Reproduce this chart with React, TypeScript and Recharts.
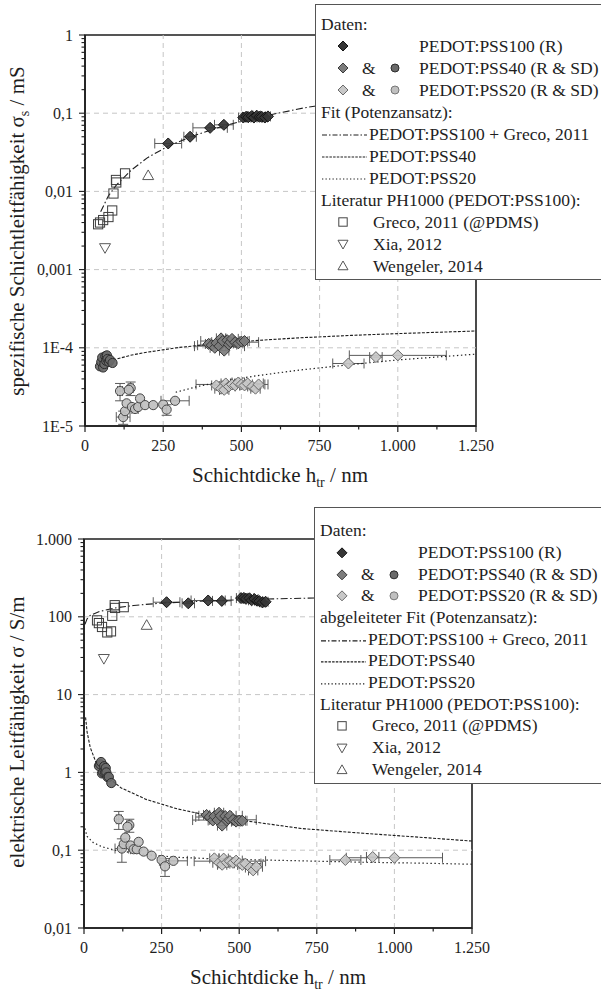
import React from "react"
import {
  ComposedChart,
  Scatter,
  XAxis,
  YAxis,
  ErrorBar,
  ReferenceLine,
  ReferenceArea,
} from "recharts"

const SERIF = '"Liberation Serif", "Times New Roman", Times, serif'
const INK = "#1e1e1e"
const GRID = "#c6c6c6"
const ERR = "#5a5a5a"

const X_TICKS = [0, 250, 500, 750, 1000, 1250]
const X_LABELS = ["0", "250", "500", "750", "1.000", "1.250"]
const X_MINOR = [125, 375, 625, 875, 1125]
const X_GRID = [250, 500, 750, 1000]

const TOP_Y_TICKS = [1e-5, 1e-4, 0.001, 0.01, 0.1, 1]
const TOP_Y_LABELS = ["1E-5", "1E-4", "0,001", "0,01", "0,1", "1"]
const BOT_Y_TICKS = [0.01, 0.1, 1, 10, 100, 1000]
const BOT_Y_LABELS = ["0,01", "0,1", "1", "10", "100", "1.000"]
const MINOR_STEPS = [2, 3, 4, 5, 6, 7, 8, 9]

// --- data: thickness h_tr [nm], sheet conductance [mS] (top), conductivity [S/m] (bottom)

// PEDOT:PSS100 (R)
const pss100H = [266, 336, 400, 444, 506, 515, 522, 533, 540, 549, 558, 565, 575, 585]
const pss100Sheet = [0.041, 0.05, 0.065, 0.071, 0.088, 0.09, 0.089, 0.092, 0.088, 0.093, 0.09, 0.09, 0.088, 0.091]
const pss100Cond = [154, 149, 162, 160, 174, 175, 170, 173, 163, 169, 161, 159, 153, 156]
const pss100HErr = [43, 20, 55, 30, 15, 12, 10, 14, 10, 12, 8, 10, 8, 8]

// PEDOT:PSS40 (R)
const pss40rH = [395, 405, 415, 420, 430, 435, 440, 445, 455, 460, 465, 470, 480, 490, 500, 510]
const pss40rSheet = [1.12e-4, 1.08e-4, 1.0e-4, 1.15e-4, 1.05e-4, 1.32e-4, 1.22e-4, 0.92e-4, 1.25e-4, 1.1e-4, 1.18e-4, 1.3e-4, 1.18e-4, 1.14e-4, 1.2e-4, 1.22e-4]
const pss40rCond = [0.284, 0.267, 0.241, 0.274, 0.244, 0.303, 0.277, 0.207, 0.275, 0.239, 0.254, 0.277, 0.246, 0.233, 0.24, 0.239]
const pss40rHErr = [10, 45, 15, 20, 80, 15, 70, 15, 20, 25, 15, 20, 75, 15, 20, 15]

// PEDOT:PSS40 (SD)
const pss40sdH = [48, 52, 55, 58, 62, 65, 68, 70, 72, 76, 80, 88]
const pss40sdSheet = [5.8e-5, 6.6e-5, 7.5e-5, 5.6e-5, 6.2e-5, 7.8e-5, 6.8e-5, 8.0e-5, 7.2e-5, 6.6e-5, 7.0e-5, 6.4e-5]
const pss40sdCond = [1.21, 1.27, 1.36, 0.97, 1.0, 1.2, 1.0, 1.14, 1.0, 0.87, 0.875, 0.73]

// PEDOT:PSS20 (R)
const pss20rH = [420, 435, 445, 450, 460, 470, 480, 490, 500, 510, 520, 535, 545, 555, 842, 930, 1000]
const pss20rSheet = [3.3e-5, 3.0e-5, 2.9e-5, 3.5e-5, 3.2e-5, 3.4e-5, 3.3e-5, 3.6e-5, 3.4e-5, 3.3e-5, 3.5e-5, 3.2e-5, 3.0e-5, 3.4e-5, 6.3e-5, 7.6e-5, 8.0e-5]
const pss20rCond = [0.0786, 0.069, 0.065, 0.078, 0.0696, 0.0723, 0.0688, 0.0735, 0.068, 0.0647, 0.0673, 0.0598, 0.055, 0.0613, 0.0748, 0.0817, 0.08]
const pss20rHErr = [15, 20, 15, 15, 20, 115, 15, 20, 15, 15, 50, 15, 15, 20, 50, 20, 155]

// PEDOT:PSS20 (SD)
const pss20sdH = [112, 146, 140, 122, 128, 133, 150, 160, 170, 176, 192, 218, 250, 261, 288]
const pss20sdSheet = [2.8e-5, 3.05e-5, 2.9e-5, 1.3e-5, 1.55e-5, 1.95e-5, 1.75e-5, 1.65e-5, 1.75e-5, 2.25e-5, 1.85e-5, 1.85e-5, 1.88e-5, 1.62e-5, 2.1e-5]
const pss20sdCond = [0.25, 0.21, 0.2, 0.105, 0.12, 0.145, 0.115, 0.103, 0.103, 0.128, 0.096, 0.085, 0.075, 0.062, 0.073]
const pss20sdHErr = [8, 8, 0, 22, 0, 0, 0, 10, 0, 0, 0, 0, 0, 0, 45]
const pss20sdSheetErr = [0.7e-5, 0.6e-5, 0, 0.25e-5, 0, 0, 0, 0, 0, 0, 0, 0, 0, 0.25e-5, 0]
const pss20sdCondErr = [0.065, 0.04, 0, 0.035, 0, 0, 0, 0, 0, 0, 0, 0, 0, 0.016, 0]

// literature PH1000
const grecoH = [42, 48, 58, 75, 87, 91, 99, 100, 128]
const grecoSheet = [0.0038, 0.004, 0.0043, 0.0047, 0.0057, 0.0094, 0.014, 0.013, 0.017]
const grecoCond = [90, 83, 74, 63, 65, 103, 141, 130, 133]
const xiaH = [64]
const xiaSheet = [0.0019]
const xiaCond = [29]
const wengH = [202]
const wengSheet = [0.016]
const wengCond = [78]

// power-law fits: [h, value]
const fitSheet100 = [[50, 0.0055], [75, 0.0088], [100, 0.012], [150, 0.019], [200, 0.027], [266, 0.038], [350, 0.052], [450, 0.07], [550, 0.088], [700, 0.117], [850, 0.145], [1000, 0.175], [1250, 0.225]]
const fitSheet40 = [[90, 7.0e-5], [150, 8.1e-5], [200, 8.8e-5], [300, 1.01e-4], [400, 1.11e-4], [500, 1.2e-4], [600, 1.28e-4], [700, 1.35e-4], [850, 1.44e-4], [1000, 1.52e-4], [1250, 1.64e-4]]
const fitSheet20 = [[290, 2.7e-5], [360, 3.2e-5], [450, 3.8e-5], [550, 4.4e-5], [687, 5.2e-5], [850, 6.1e-5], [1000, 7.0e-5], [1250, 8.3e-5]]
const fitCond100 = [[3, 80], [10, 94], [20, 104], [50, 117], [100, 130], [160, 140], [250, 150], [400, 160], [550, 168], [700, 173], [900, 180], [1100, 185], [1250, 188]]
const fitCond40 = [[5, 5.1], [7, 4.3], [10, 3.3], [20, 2.1], [40, 1.3], [70, 0.91], [120, 0.63], [200, 0.45], [300, 0.34], [400, 0.28], [500, 0.245], [700, 0.19], [900, 0.165], [1100, 0.145], [1250, 0.131]]
const fitCond20 = [[3, 0.19], [10, 0.15], [30, 0.125], [60, 0.11], [100, 0.1], [200, 0.088], [300, 0.081], [400, 0.078], [500, 0.076], [700, 0.073], [900, 0.07], [1100, 0.068], [1250, 0.066]]

type Pt = { x: number; y: number; ex: number; ey: number }

const zip = (h: number[], v: number[], ex?: number[], ey?: number[]): Pt[] =>
  h.map((x, i) => ({ x, y: v[i], ex: ex ? ex[i] : 0, ey: ey ? ey[i] : 0 }))
const curve = (pairs: number[][]): Pt[] => pairs.map(([x, y]) => ({ x, y, ex: 0, ey: 0 }))
const minorOf = (majors: number[]) =>
  majors.slice(0, -1).flatMap((d) => MINOR_STEPS.map((m) => m * d))

const STYLE = {
  pss100: { fill: "#363636", stroke: "#141414" },
  pss40r: { fill: "#7c7c7c", stroke: "#3a3a3a" },
  pss40sd: { fill: "#6a6a6a", stroke: "#2c2c2c" },
  pss20r: { fill: "#c8c8c8", stroke: "#6a6a6a" },
  pss20sd: { fill: "#c0c0c0", stroke: "#484848" },
  greco: { fill: "none", stroke: "#3c3c3c" },
  lit: { fill: "none", stroke: "#5a5a5a" },
}

type Kind = "diamond" | "circle" | "square" | "down" | "up"

function glyph(kind: Kind, cx: number, cy: number, r: number, fill: string, stroke: string, op = 1) {
  const common = { fill, stroke, strokeWidth: 1, fillOpacity: op }
  if (kind === "diamond")
    return <polygon {...common} points={`${cx},${cy - r} ${cx + r},${cy} ${cx},${cy + r} ${cx - r},${cy}`} />
  if (kind === "circle") return <circle {...common} cx={cx} cy={cy} r={r} />
  if (kind === "square") return <rect {...common} x={cx - r} y={cy - r} width={2 * r} height={2 * r} />
  if (kind === "down")
    return <polygon {...common} points={`${cx - r},${cy - r * 0.75} ${cx + r},${cy - r * 0.75} ${cx},${cy + r}`} />
  return <polygon {...common} points={`${cx - r},${cy + r * 0.75} ${cx + r},${cy + r * 0.75} ${cx},${cy - r}`} />
}

// eslint-disable-next-line @typescript-eslint/no-explicit-any
const shapeOf = (kind: Kind, r: number, s: { fill: string; stroke: string }, op = 0.92) => (p: any) =>
  glyph(kind, p.cx, p.cy, r, s.fill, s.stroke, op)

const noDot = () => <g />

// eslint-disable-next-line @typescript-eslint/no-explicit-any
function XTick(props: any) {
  const { x, y, payload } = props
  const i = X_TICKS.indexOf(payload.value)
  const major = i >= 0
  return (
    <g>
      <line x1={x} x2={x} y1={y} y2={y + (major ? 6 : 3.5)} stroke={INK} strokeWidth={1.2} />
      {major && (
        <text x={x} y={y + 25} textAnchor="middle" fontFamily={SERIF} fontSize={16} fill={INK}>
          {X_LABELS[i]}
        </text>
      )}
    </g>
  )
}

// eslint-disable-next-line @typescript-eslint/no-explicit-any
function YTick(props: any) {
  const { x, y, payload, majors, labels } = props
  const i = majors.indexOf(payload.value)
  const major = i >= 0
  return (
    <g>
      <line x1={x - (major ? 6 : 3.5)} x2={x} y1={y} y2={y} stroke={INK} strokeWidth={1.1} />
      {major && (
        <text x={x - 12} y={y} dy="0.35em" textAnchor="end" fontFamily={SERIF} fontSize={16} fill={INK}>
          {labels[i]}
        </text>
      )}
    </g>
  )
}

type PanelProps = {
  margin: { top: number; right: number; bottom: number; left: number }
  yTicks: number[]
  yLabels: string[]
  xCenter: number
  xTitleY: number
  yTitleY: number
  yTitle: React.ReactNode
  fit100: Pt[]
  fit40: Pt[]
  fit20: Pt[]
  pss100: Pt[]
  pss40r: Pt[]
  pss40sd: Pt[]
  pss20r: Pt[]
  pss20sd: Pt[]
  greco: Pt[]
  xia: Pt[]
  weng: Pt[]
}

function Panel(p: PanelProps) {
  const yDomain = [p.yTicks[0], p.yTicks[p.yTicks.length - 1]]
  const allY = [...p.yTicks, ...minorOf(p.yTicks)]
  return (
    <ComposedChart width={601} height={496} margin={p.margin}>
      <XAxis
        dataKey="x"
        type="number"
        domain={[0, 1250]}
        allowDataOverflow
        ticks={[...X_TICKS, ...X_MINOR]}
        interval={0}
        tickSize={0}
        tickMargin={0}
        tickLine={false}
        axisLine={{ stroke: INK, strokeWidth: 1.6 }}
        tick={(t) => <XTick {...t} />}
        height={40}
        label={() => (
          <text x={p.xCenter} y={p.xTitleY} textAnchor="middle" fontFamily={SERIF} fontSize={21} fill={INK}>
            Schichtdicke h<tspan fontSize={14} dy={5}>tr</tspan>
            <tspan dy={-5}> / nm</tspan>
          </text>
        )}
      />
      <YAxis
        dataKey="y"
        type="number"
        scale="log"
        domain={yDomain}
        allowDataOverflow
        ticks={allY}
        interval={0}
        tickSize={0}
        tickMargin={0}
        tickLine={false}
        axisLine={{ stroke: INK, strokeWidth: 1.6 }}
        tick={(t) => <YTick {...t} majors={p.yTicks} labels={p.yLabels} />}
        width={70}
        label={() => (
          <text
            x={24}
            y={p.yTitleY}
            transform={`rotate(-90 24 ${p.yTitleY})`}
            textAnchor="middle"
            fontFamily={SERIF}
            fontSize={21}
            fill={INK}
          >
            {p.yTitle}
          </text>
        )}
      />
      {X_GRID.map((v) => (
        <ReferenceLine key={`gx${v}`} x={v} stroke={GRID} strokeWidth={1} strokeDasharray="5 4" />
      ))}
      {p.yTicks.slice(1, -1).map((v) => (
        <ReferenceLine key={`gy${v}`} y={v} stroke={GRID} strokeWidth={1} strokeDasharray="5 4" />
      ))}
      <ReferenceArea x1={0} x2={1250} y1={yDomain[0]} y2={yDomain[1]} fill="none" stroke={INK} strokeWidth={1.6} />

      <Scatter data={p.fit100} shape={noDot} line={{ stroke: INK, strokeWidth: 1.1, strokeDasharray: "7 2.5 1.5 2.5" }} isAnimationActive={false} />
      <Scatter data={p.fit40} shape={noDot} line={{ stroke: INK, strokeWidth: 1.1, strokeDasharray: "3 1.5" }} isAnimationActive={false} />
      <Scatter data={p.fit20} shape={noDot} line={{ stroke: INK, strokeWidth: 1.2, strokeDasharray: "1.4 2.6" }} isAnimationActive={false} />

      <Scatter data={p.pss20r} shape={shapeOf("diamond", 5.5, STYLE.pss20r)} isAnimationActive={false}>
        <ErrorBar dataKey="ex" direction="x" width={5} stroke={ERR} strokeWidth={1} />
      </Scatter>
      <Scatter data={p.pss20sd} shape={shapeOf("circle", 4.6, STYLE.pss20sd)} isAnimationActive={false}>
        <ErrorBar dataKey="ex" direction="x" width={5} stroke={ERR} strokeWidth={1} />
        <ErrorBar dataKey="ey" direction="y" width={5} stroke={ERR} strokeWidth={1} />
      </Scatter>
      <Scatter data={p.pss40r} shape={shapeOf("diamond", 5.5, STYLE.pss40r)} isAnimationActive={false}>
        <ErrorBar dataKey="ex" direction="x" width={5} stroke={ERR} strokeWidth={1} />
      </Scatter>
      <Scatter data={p.pss40sd} shape={shapeOf("circle", 4.6, STYLE.pss40sd)} isAnimationActive={false}>
        <ErrorBar dataKey="ex" direction="x" width={4} stroke={ERR} strokeWidth={1} />
      </Scatter>
      <Scatter data={p.pss100} shape={shapeOf("diamond", 5.5, STYLE.pss100)} isAnimationActive={false}>
        <ErrorBar dataKey="ex" direction="x" width={5} stroke={ERR} strokeWidth={1} />
      </Scatter>
      <Scatter data={p.greco} shape={shapeOf("square", 4.6, STYLE.greco, 1)} isAnimationActive={false} />
      <Scatter data={p.xia} shape={shapeOf("down", 5.5, STYLE.lit, 1)} isAnimationActive={false} />
      <Scatter data={p.weng} shape={shapeOf("up", 5.5, STYLE.lit, 1)} isAnimationActive={false} />
    </ComposedChart>
  )
}

function LegendBox({
  left,
  top,
  height,
  firstRow,
  rowH,
  fitTitle,
}: {
  left: number
  top: number
  height: number
  firstRow: number
  rowH: number
  fitTitle: string
}) {
  const rowTop = (i: number) => firstRow + i * rowH - rowH / 2
  const m = rowH / 2
  const text = (i: number, x: number, s: string) => (
    <div
      style={{
        position: "absolute",
        left: x,
        top: rowTop(i),
        height: rowH,
        lineHeight: `${rowH}px`,
        whiteSpace: "nowrap",
      }}
    >
      {s}
    </div>
  )
  const sym = (i: number, children: React.ReactNode) => (
    <svg style={{ position: "absolute", left: 0, top: rowTop(i) }} width={110} height={rowH}>
      {children}
    </svg>
  )
  const sample = (i: number, dash: string) =>
    sym(i, <line x1={6} x2={51} y1={m + 1} y2={m + 1} stroke={INK} strokeWidth={1.1} strokeDasharray={dash} />)

  return (
    <div
      style={{
        position: "absolute",
        left,
        top,
        width: 420,
        height,
        background: "#fff",
        borderTop: "1px solid #555",
        borderLeft: "1px solid #555",
        borderBottom: "1px solid #555",
        fontFamily: SERIF,
        fontSize: 17.5,
        color: INK,
      }}
    >
      {text(0, 5, "Daten:")}
      {sym(1, glyph("diamond", 27, m, 5, STYLE.pss100.fill, STYLE.pss100.stroke))}
      {text(1, 103, "PEDOT:PSS100 (R)")}
      {sym(2, <>{glyph("diamond", 27, m, 5, STYLE.pss40r.fill, STYLE.pss40r.stroke)}{glyph("circle", 79, m, 4, STYLE.pss40sd.fill, STYLE.pss40sd.stroke)}</>)}
      {text(2, 46, "&")}
      {text(2, 103, "PEDOT:PSS40 (R & SD)")}
      {sym(3, <>{glyph("diamond", 27, m, 5, STYLE.pss20r.fill, STYLE.pss20r.stroke)}{glyph("circle", 79, m, 4, STYLE.pss20sd.fill, "#777")}</>)}
      {text(3, 46, "&")}
      {text(3, 103, "PEDOT:PSS20 (R & SD)")}
      {text(4, 5, fitTitle)}
      {sample(5, "5 2 1.5 2")}
      {text(5, 53, "PEDOT:PSS100 + Greco, 2011")}
      {sample(6, "2.5 1.2")}
      {text(6, 53, "PEDOT:PSS40")}
      {sample(7, "1.3 2.2")}
      {text(7, 53, "PEDOT:PSS20")}
      {text(8, 5, "Literatur PH1000 (PEDOT:PSS100):")}
      {sym(9, glyph("square", 27, m, 4.2, "none", "#444"))}
      {text(9, 57, "Greco, 2011 (@PDMS)")}
      {sym(10, glyph("down", 27, m, 5, "none", "#555"))}
      {text(10, 57, "Xia, 2012")}
      {sym(11, glyph("up", 27, m, 5, "none", "#555"))}
      {text(11, 57, "Wengeler, 2014")}
    </div>
  )
}

export default function App() {
  return (
    <div
      style={{
        position: "absolute",
        left: 0,
        top: 0,
        width: 601,
        height: 992,
        overflow: "hidden",
        background: "#fff",
      }}
    >
      <div style={{ position: "absolute", left: 0, top: 0 }}>
        <Panel
          margin={{ top: 35, right: 125, bottom: 30, left: 15 }}
          yTicks={TOP_Y_TICKS}
          yLabels={TOP_Y_LABELS}
          xCenter={280}
          xTitleY={482}
          yTitleY={231}
          yTitle={
            <>
              spezifische Schichtleitfähigkeit σ<tspan fontSize={14} dy={5}>s</tspan>
              <tspan dy={-5}> / mS</tspan>
            </>
          }
          fit100={curve(fitSheet100)}
          fit40={curve(fitSheet40)}
          fit20={curve(fitSheet20)}
          pss100={zip(pss100H, pss100Sheet, pss100HErr)}
          pss40r={zip(pss40rH, pss40rSheet, pss40rHErr)}
          pss40sd={zip(pss40sdH, pss40sdSheet)}
          pss20r={zip(pss20rH, pss20rSheet, pss20rHErr)}
          pss20sd={zip(pss20sdH, pss20sdSheet, pss20sdHErr, pss20sdSheetErr)}
          greco={zip(grecoH, grecoSheet)}
          xia={zip(xiaH, xiaSheet)}
          weng={zip(wengH, wengSheet)}
        />
      </div>
      <div style={{ position: "absolute", left: 0, top: 496 }}>
        <Panel
          margin={{ top: 43, right: 129, bottom: 24, left: 14 }}
          yTicks={BOT_Y_TICKS}
          yLabels={BOT_Y_LABELS}
          xCenter={278}
          xTitleY={488}
          yTitleY={236}
          yTitle={<>elektrische Leitfähigkeit σ / S/m</>}
          fit100={curve(fitCond100)}
          fit40={curve(fitCond40)}
          fit20={curve(fitCond20)}
          pss100={zip(pss100H, pss100Cond, pss100HErr)}
          pss40r={zip(pss40rH, pss40rCond, pss40rHErr)}
          pss40sd={zip(pss40sdH, pss40sdCond)}
          pss20r={zip(pss20rH, pss20rCond, pss20rHErr)}
          pss20sd={zip(pss20sdH, pss20sdCond, pss20sdHErr, pss20sdCondErr)}
          greco={zip(grecoH, grecoCond)}
          xia={zip(xiaH, xiaCond)}
          weng={zip(wengH, wengCond)}
        />
      </div>
      <LegendBox left={315} top={4} height={274} firstRow={19} rowH={22} fitTitle="Fit (Potenzansatz):" />
      <LegendBox left={314} top={507} height={275} firstRow={23} rowH={21.7} fitTitle="abgeleiteter Fit (Potenzansatz):" />
    </div>
  )
}
